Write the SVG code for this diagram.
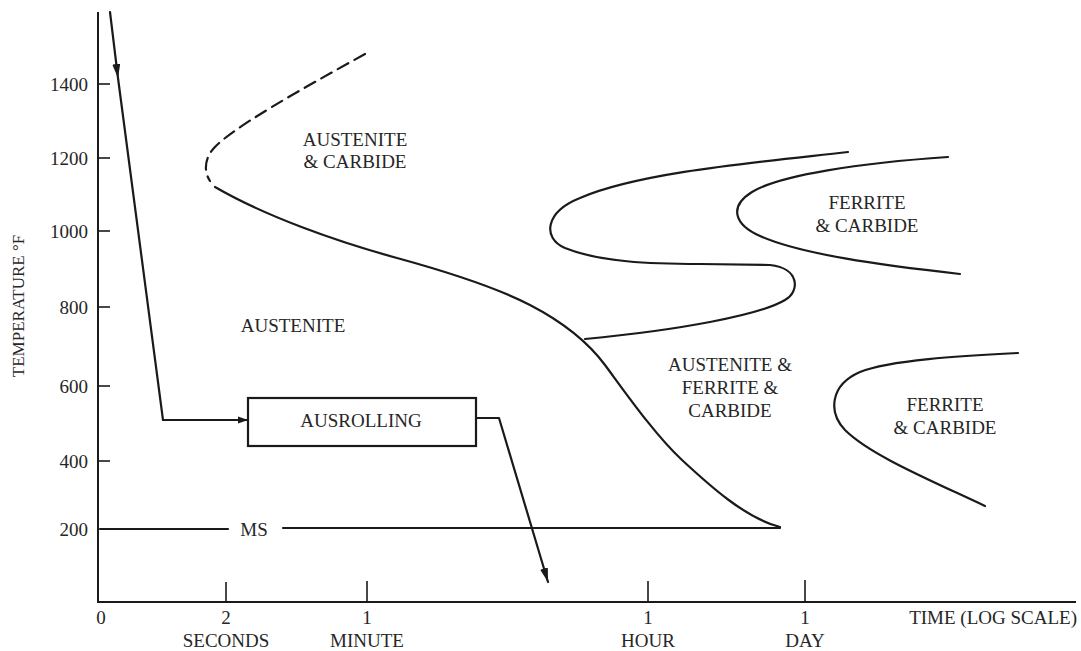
<svg xmlns="http://www.w3.org/2000/svg" width="1081" height="651" viewBox="0 0 1081 651">
<defs>
<style>
.ln{fill:none;stroke:#1a1a1a;stroke-width:2.2;stroke-linecap:round;stroke-linejoin:round}
.ax{fill:none;stroke:#1a1a1a;stroke-width:2}
.tk{fill:none;stroke:#1a1a1a;stroke-width:1.6}
.t{font-family:"Liberation Serif","Times New Roman",serif;font-size:19px;fill:#262626}
.m{text-anchor:middle}
.e{text-anchor:end}
</style>
<marker id="ah" viewBox="0 0 14 8" refX="14" refY="4" markerWidth="14" markerHeight="8" markerUnits="userSpaceOnUse" orient="auto">
<path d="M0,0 L14,4 L0,8 Z" fill="#1a1a1a"/>
</marker>
<marker id="ahs" viewBox="0 0 10 8" refX="10" refY="4" markerWidth="10" markerHeight="8" markerUnits="userSpaceOnUse" orient="auto">
<path d="M0,0.5 L10,4 L0,7.5 Z" fill="#1a1a1a"/>
</marker>
</defs>
<rect width="1081" height="651" fill="#fff"/>

<g id="axes">
<line class="ax" x1="98" y1="12" x2="98" y2="602"/>
<line class="ax" x1="97" y1="602" x2="1076" y2="602"/>
<g class="tk">
<line x1="99" y1="84" x2="110" y2="84"/>
<line x1="99" y1="158" x2="110" y2="158"/>
<line x1="99" y1="231" x2="110" y2="231"/>
<line x1="99" y1="307" x2="110" y2="307"/>
<line x1="99" y1="386" x2="110" y2="386"/>
<line x1="99" y1="461" x2="110" y2="461"/>
<line x1="226" y1="582" x2="226" y2="602"/>
<line x1="367" y1="581" x2="367" y2="602"/>
<line x1="648" y1="581" x2="648" y2="602"/>
<line x1="805" y1="580" x2="805" y2="602"/>
</g>
<g class="t e">
<text x="88" y="91">1400</text>
<text x="88" y="165">1200</text>
<text x="88" y="238">1000</text>
<text x="88" y="314">800</text>
<text x="88" y="393">600</text>
<text x="88" y="468">400</text>
<text x="88" y="536">200</text>
</g>
<text class="t m" x="0" y="0" font-size="17" transform="translate(24,306) rotate(-90)" style="font-size:17px">TEMPERATURE °F</text>
<g class="t m">
<text x="101" y="624">0</text>
<text x="226" y="624">2</text>
<text x="226" y="647">SECONDS</text>
<text x="367" y="624">1</text>
<text x="367" y="647">MINUTE</text>
<text x="648" y="624">1</text>
<text x="648" y="647">HOUR</text>
<text x="805" y="624">1</text>
<text x="805" y="647">DAY</text>
</g>
<text class="t e" x="1077" y="624">TIME (LOG SCALE)</text>
</g>

<g id="curves">
<path class="ln" d="M365,54 C300,90 232,128 214,148 C204,159 204,172 210,181" stroke-dasharray="12,7"/>
<path class="ln" d="M215,187 C265,216 335,241 397,258 S505,292 530,305 S585,338 605,365 S655,435 682,460 S745,518 780,527"/>
<path class="ln" d="M848,152 C760,162 640,172 580,198 C545,212 542,238 565,248 C600,262 650,264 700,264 L770,265 C800,268 800,292 785,300 C760,315 680,330 585,339"/>
<path class="ln" d="M948,157 C860,163 780,175 752,192 C728,207 735,225 760,236 C800,254 880,265 960,274"/>
<path class="ln" d="M1018,353 C960,356 890,360 860,372 C830,385 828,412 845,430 C870,455 930,480 985,506"/>
</g>

<g id="ms-line">
<line class="ln" x1="100" y1="529" x2="228" y2="529"/>
<line class="ln" x1="283" y1="528" x2="780" y2="528"/>
<text class="t m" x="254" y="536">MS</text>
</g>

<g id="ausrolling">
<rect x="248" y="398" width="228" height="48" fill="none" stroke="#1a1a1a" stroke-width="2.2"/>
<text class="t m" x="361" y="427">AUSROLLING</text>
</g>

<g id="labels" class="t m">
<text x="355" y="146">AUSTENITE</text>
<text x="355" y="168">&amp; CARBIDE</text>
<text x="293" y="332">AUSTENITE</text>
<text x="730" y="371">AUSTENITE &amp;</text>
<text x="730" y="394">FERRITE &amp;</text>
<text x="730" y="417">CARBIDE</text>
<text x="867" y="209">FERRITE</text>
<text x="867" y="232">&amp; CARBIDE</text>
<text x="945" y="411">FERRITE</text>
<text x="945" y="434">&amp; CARBIDE</text>
</g>

<g id="connectors">
<path class="ln" d="M110,12 L118,78 L163,420" marker-mid="url(#ah)"/>
<path class="ln" d="M163,420 L248,420" marker-end="url(#ahs)"/>
<path class="ln" d="M476,418 L499,418 L548,582" marker-end="url(#ah)"/>
</g>
</svg>
